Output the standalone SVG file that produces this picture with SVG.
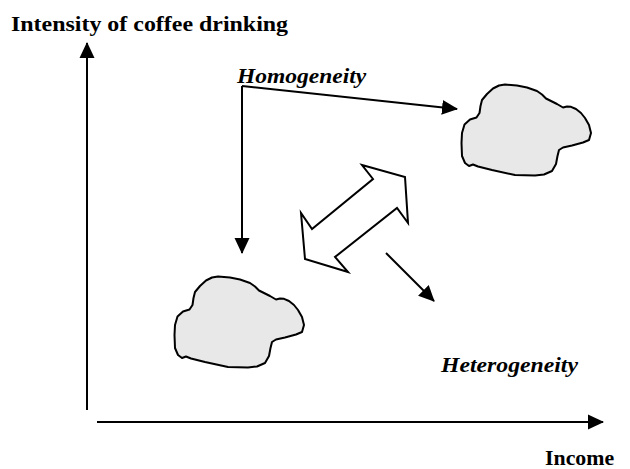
<svg xmlns="http://www.w3.org/2000/svg" width="630" height="469" viewBox="0 0 630 469">
<style>
.lbl{font-family:"Liberation Serif","Times New Roman",serif;font-weight:bold;fill:#000;font-size:21px}
.it{font-style:italic}
.ln{stroke:#000;stroke-width:2;fill:none}
.cloud{fill:#e8e8e8;stroke:#000;stroke-width:2;stroke-linejoin:round}
</style>
<defs>
<marker id="ah" markerUnits="userSpaceOnUse" markerWidth="16" markerHeight="16" viewBox="0 0 16 16" refX="15" refY="8" orient="auto">
<path d="M0,0.5 L16,8 L0,15.5 Z" fill="#000"/>
</marker>
<path id="cloudShape" d="M218,276.5 L230,277.5 L240,279.5 L250,283 L255,286.5 L259,290.5 L264,293 L270,296 L276,299.5 L280,298.5 L284,298.8 L289,301 L294,305 L298,310 L302,317 L304,325 L302,332 L296,334.5 L285,337.5 L276,339.5 L272,342 L270.5,348 L269,356 L265,363 L257,366.5 L248,367.5 L228,367 L205,362 L191,358.5 L186,356.5 L182,358 L178,355 L175,348 L174.5,335 L175,325 L177.5,316.5 L183,311.5 L189.5,309.5 L192.5,305 L193.5,298 L195,292 L200,286 L206,280.5 L212,277.5 Z"/>
</defs>
<rect width="630" height="469" fill="#fff"/>
<g id="labels">
<text class="lbl" transform="translate(11,31) scale(1.14,1)">Intensity of coffee drinking</text>
<text class="lbl" transform="translate(545,465) scale(1.04,1)">Income</text>
<text class="lbl it" transform="translate(237,83) scale(1.12,1)">Homogeneity</text>
<text class="lbl it" transform="translate(441,372) scale(1.13,1)">Heterogeneity</text>
</g>
<g id="connectors">
<line class="ln" x1="87" y1="410" x2="87" y2="43" marker-end="url(#ah)"/>
<line class="ln" x1="97" y1="422" x2="603" y2="422" marker-end="url(#ah)"/>
<line class="ln" x1="242" y1="86" x2="457" y2="109" marker-end="url(#ah)"/>
<line class="ln" x1="242" y1="86" x2="242" y2="253" marker-end="url(#ah)"/>
<line class="ln" x1="386" y1="253" x2="434" y2="301" marker-end="url(#ah)"/>
</g>
<g id="node-shift">
<polygon points="362,165 405,177 408,223 397,208 335,257 348,272 305,259 301,213 312,229 373,179" fill="#fff" stroke="#000" stroke-width="2" stroke-linejoin="miter"/>
</g>
<g id="node-cloud-high">
<use href="#cloudShape" class="cloud" transform="translate(287,-192)"/>
</g>
<g id="node-cloud-low">
<use href="#cloudShape" class="cloud"/>
</g>
</svg>
